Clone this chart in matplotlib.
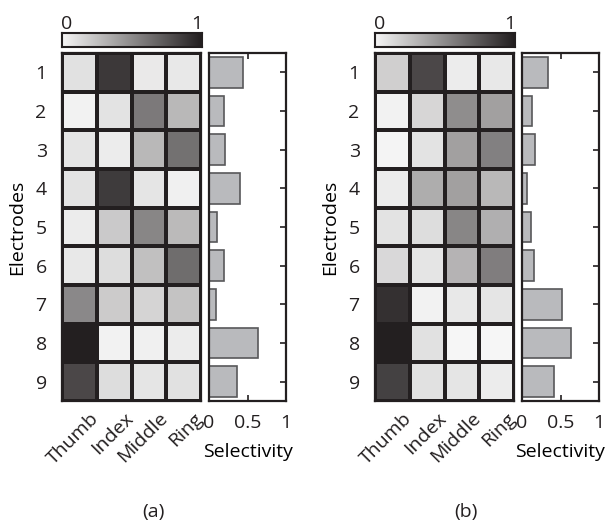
import numpy as np
import matplotlib
matplotlib.use("Agg")
import matplotlib.pyplot as plt
from matplotlib.colors import LinearSegmentedColormap
from matplotlib.transforms import ScaledTranslation

plt.rcParams['font.family'] = ['Open Sans', 'DejaVu Sans']
plt.rcParams['text.color'] = '#231f20'
plt.rcParams['xtick.color'] = '#231f20'
plt.rcParams['ytick.color'] = '#231f20'

fingers = ["Thumb", "Index", "Middle", "Ring"]
electrodes = ["1", "2", "3", "4", "5", "6", "7", "8", "9"]

# activation per electrode (rows) and finger (cols)
act_a = [[0.10, 0.88, 0.06, 0.07],
         [0.02, 0.09, 0.58, 0.29],
         [0.08, 0.05, 0.29, 0.62],
         [0.09, 0.87, 0.08, 0.03],
         [0.05, 0.21, 0.52, 0.28],
         [0.07, 0.12, 0.25, 0.64],
         [0.51, 0.20, 0.16, 0.24],
         [1.00, 0.02, 0.03, 0.05],
         [0.81, 0.12, 0.08, 0.10]]
act_b = [[0.18, 0.81, 0.05, 0.07],
         [0.02, 0.15, 0.49, 0.40],
         [0.01, 0.09, 0.40, 0.55],
         [0.05, 0.34, 0.40, 0.29],
         [0.09, 0.12, 0.52, 0.33],
         [0.14, 0.08, 0.31, 0.56],
         [0.92, 0.02, 0.07, 0.08],
         [1.00, 0.10, 0.00, 0.00],
         [0.84, 0.10, 0.08, 0.05]]

sel_a = [0.44, 0.20, 0.21, 0.40, 0.11, 0.19, 0.095, 0.63, 0.36]
sel_b = [0.34, 0.13, 0.17, 0.06, 0.12, 0.15, 0.52, 0.64, 0.42]

FS = 14
cmap = LinearSegmentedColormap.from_list("g", ["#f6f6f6", "#231f20"])
W, H = 609, 522
fig = plt.figure(figsize=(W / 100, H / 100), dpi=100)


def box(x0, y0, x1, y1):
    return fig.add_axes([x0 / W, 1 - y1 / H, (x1 - x0) / W, (y1 - y0) / H])


def panel(act, sel, xoff, label):
    # colorbar
    cax = box(62 + xoff, 33, 202 + xoff, 47)
    grad = np.linspace(0, 1, 256).reshape(1, -1)
    cax.imshow(grad, cmap=cmap, aspect='auto', extent=[0, 1, 0, 1])
    cax.set_yticks([])
    cax.xaxis.tick_top()
    cax.set_xticks([0.03, 0.96])
    cax.set_xticklabels(["0", "1"], fontsize=FS)
    cax.tick_params(axis='x', length=0, pad=0)
    for s in cax.spines.values():
        s.set_linewidth(1.5)
        s.set_color('#231f20')

    # heatmap
    ax = box(62 + xoff, 53, 201 + xoff, 401)
    ax.pcolormesh(np.array(act), cmap=cmap, vmin=0, vmax=1,
                  edgecolors='#231f20', linewidth=1.6)
    ax.set_xlim(0, 4)
    ax.set_ylim(9, 0)
    ax.set_yticks(np.arange(9) + 0.5)
    ax.set_yticklabels(electrodes, fontsize=FS)
    ax.set_xticks(np.arange(4) + 0.5)
    ax.set_xticklabels(fingers, fontsize=FS, rotation=45, ha='right',
                       va='top', rotation_mode='anchor')
    ax.tick_params(length=0)
    ax.tick_params(axis='x', pad=6)
    ax.tick_params(axis='y', pad=11)
    for t in ax.get_xticklabels():
        t.set_transform(t.get_transform() +
                        ScaledTranslation(0.10, 0.0, fig.dpi_scale_trans))
    ax.set_ylabel("Electrodes", fontsize=FS, labelpad=7)
    for s in ax.spines.values():
        s.set_linewidth(1.6)
        s.set_color('#231f20')

    # selectivity bars
    bx = box(209 + xoff, 53, 286 + xoff, 401)
    bx.barh(np.arange(9) + 0.5, sel, height=0.8, color='#b9babd',
            edgecolor='#58585a', linewidth=1.2)
    bx.set_xlim(0, 1)
    bx.set_ylim(9, 0)
    bx.set_xticks([0, 0.5, 1])
    bx.set_xticklabels(["0", "0.5", "1"], fontsize=FS)
    bx.set_yticks(np.arange(9) + 0.5)
    bx.tick_params(axis='both', direction='in', length=4, width=1.2,
                   top=True, right=True, left=False, labelleft=False)
    bx.tick_params(axis='x', pad=9)
    bx.set_xlabel("Selectivity", fontsize=FS, labelpad=8)
    for s in bx.spines.values():
        s.set_linewidth(1.6)
        s.set_color('#231f20')

    fig.text((153 + xoff) / W, 1 - 512 / H, label, fontsize=FS,
             ha='center', va='center')


panel(act_a, sel_a, 0, "(a)")
panel(act_b, sel_b, 313, "(b)")

fig.savefig("out.png", dpi=100)
